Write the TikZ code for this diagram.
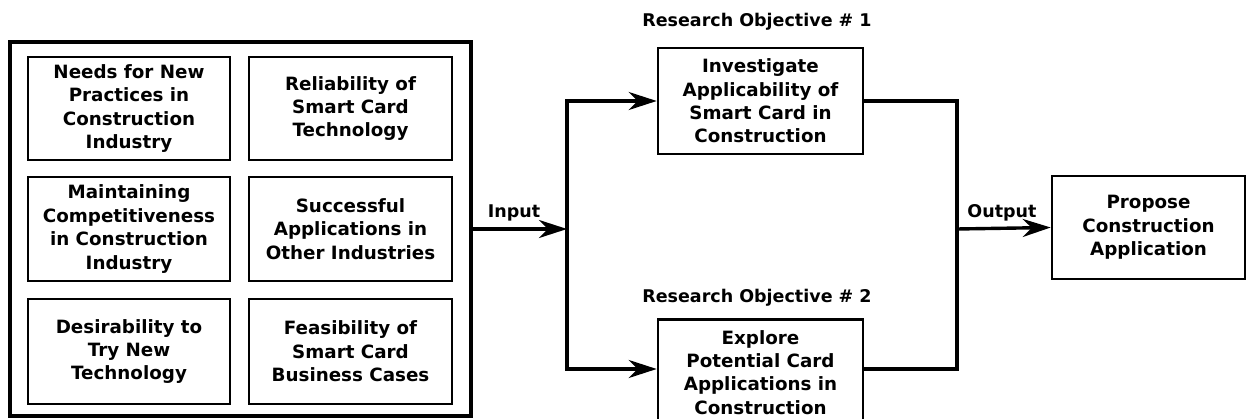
\documentclass[tikz,border=0pt]{standalone}
\usepackage{fontspec}
\setmainfont{DejaVu Sans}
\usetikzlibrary{arrows.meta}
\begin{document}
\begin{tikzpicture}[x=1pt,y=-1pt,
  txt/.style={font=\bfseries\fontsize{18.3}{23.4}\selectfont, align=center},
  box/.style={txt, draw, line width=2.6pt, inner sep=2pt},
  flow/.style={line width=3.4pt},
  arr/.style={flow, -{Stealth[length=28pt,width=18pt,inset=9pt]}},
  lbl/.style={font=\bfseries\fontsize{17.5}{22}\selectfont, inner sep=0pt}]
\clip (0,0) rectangle (1247,419);
% frame holding the six driving factors
\node[draw, line width=3.6pt, minimum width=461pt, minimum height=374pt] (frame) at (240.5,229) {};
\node[box, minimum width=202pt, minimum height=103pt] (f1) at (129,108.5) {Needs for New\\Practices in\\Construction\\Industry};
\node[box, minimum width=203pt, minimum height=103pt] (f2) at (350.5,108.5) {Reliability of\\Smart Card\\Technology};
\node[box, minimum width=202pt, minimum height=104pt] (f3) at (129,229) {Maintaining\\Competitiveness\\in Construction\\Industry};
\node[box, minimum width=203pt, minimum height=104pt] (f4) at (350.5,229) {Successful\\Applications in\\Other Industries};
\node[box, minimum width=202pt, minimum height=105pt] (f5) at (129,351.5) {Desirability to\\Try New\\Technology};
\node[box, minimum width=203pt, minimum height=105pt] (f6) at (350.5,351.5) {Feasibility of\\Smart Card\\Business Cases};
% research objectives
\node[lbl] (r1) at (757,22) {Research Objective \# 1};
\node[box, minimum width=205pt, minimum height=106pt] (o1) at (760.5,101) {Investigate\\Applicability of\\Smart Card in\\Construction};
\node[lbl] (r2) at (757,298) {Research Objective \# 2};
\node[box, minimum width=205pt, minimum height=106pt, anchor=north] (o2) at (760.5,318) {Explore\\Potential Card\\Applications in\\Construction};
% result
\node[box, minimum width=193pt, minimum height=103pt] (prop) at (1148.5,227.5) {Propose\\Construction\\Application};
% connectors
\coordinate (jin) at (567,229);
\coordinate (jout) at (957,229);
\draw[arr] (frame.east |- jin) -- (jin);
\draw[arr] (jin) |- (o1.west);
\draw[arr] (jin) |- (o2.west |- 0,369);
\draw[flow] (jin |- o1.west) -- (jin |- 0,369);
\draw[flow] (o1.east) -| (jout);
\draw[flow] (o2.east |- 0,369) -| (jout);
\draw[arr] (jout) -- (prop.west);
\node[lbl] (lin) at (514,213) {Input};
\node[lbl] (lout) at (1002,213) {Output};
\end{tikzpicture}
\end{document}
